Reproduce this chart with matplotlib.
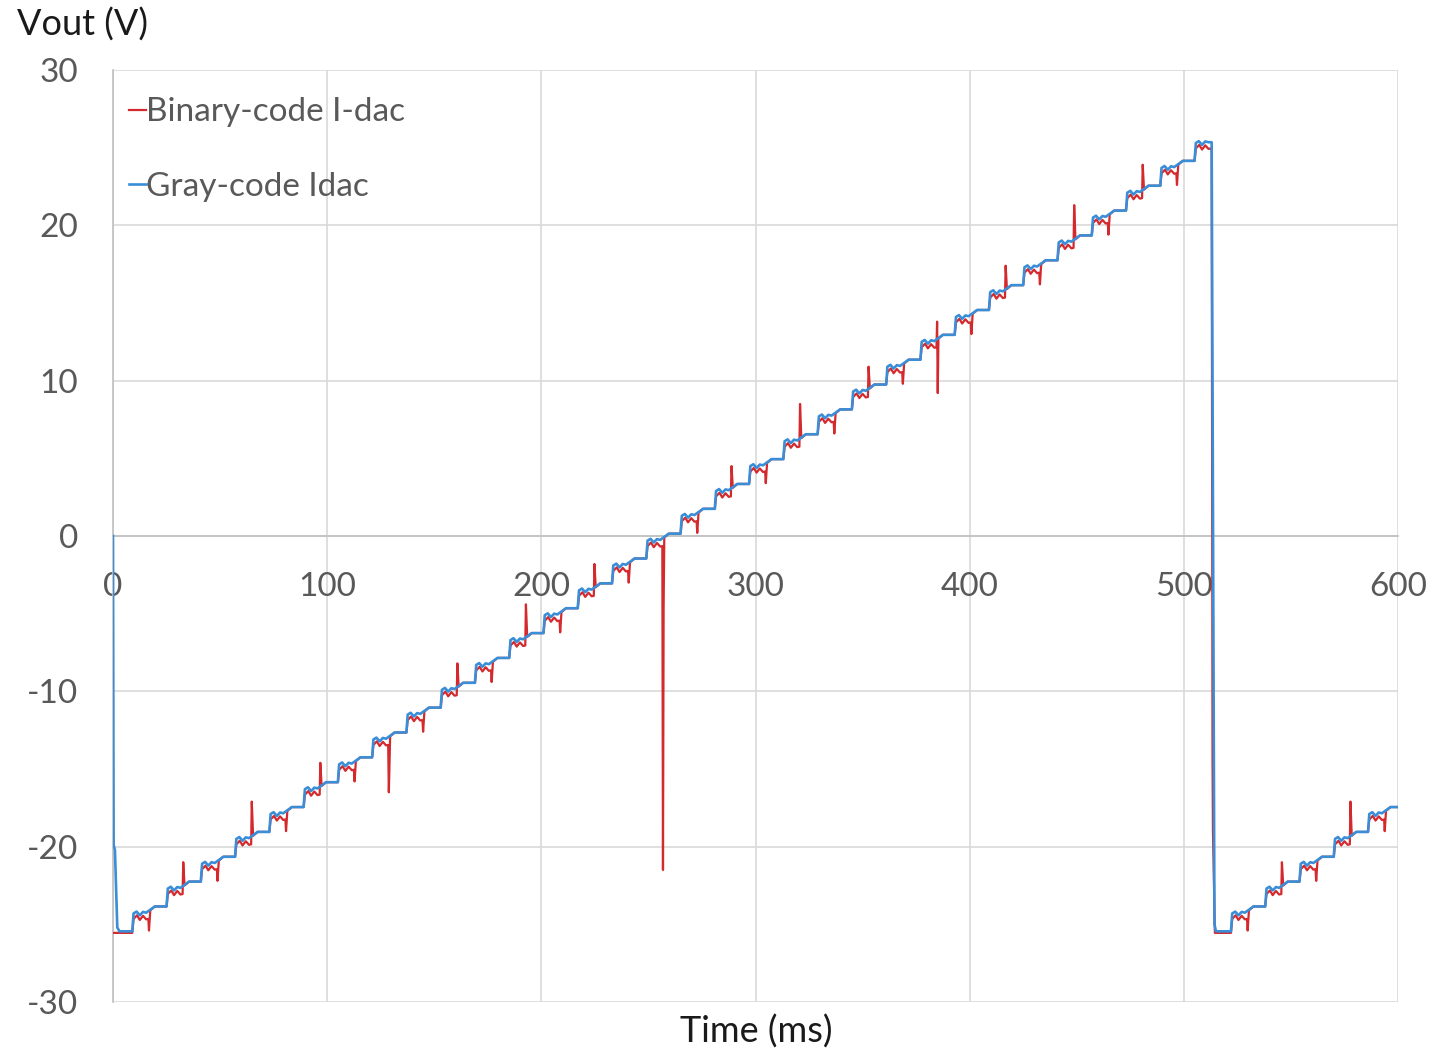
import matplotlib.pyplot as plt

plt.rcParams['font.family'] = ['Lato', 'DejaVu Sans']
plt.rcParams['axes.unicode_minus'] = False

# first ramp: time of each step (ms) and the level right after it (V)
ramp1_t = [9, 25, 41, 57, 73, 89, 105, 121, 137, 153, 169, 185, 201, 217, 233, 249,
           265, 281, 297, 313, 329, 345, 361, 377, 393, 409, 425, 441, 457, 473, 489, 505]
ramp1_level = [-24.3, -22.7, -21.1, -19.5, -17.9, -16.3, -14.7, -13.1, -11.5, -9.9, -8.3,
               -6.7, -5.1, -3.5, -1.9, -0.3, 1.3, 2.9, 4.5, 6.1, 7.7, 9.3, 10.9, 12.5,
               14.1, 15.7, 17.3, 18.9, 20.5, 22.1, 23.7, 25.3]
# binary-code glitch in the middle of each step (first and second extreme)
ramp1_spike = [-25.4, -21.0, -22.2, -17.1, -19.0, -14.6, -15.8, -16.5, -12.6, -8.2, -9.4,
               -4.4, -6.2, -1.8, -3.0, -21.5, 0.2, 4.5, 3.4, 8.5, 6.6, 10.9, 9.8, 13.8,
               13.0, 17.4, 16.2, 21.3, 19.4, 23.9, 22.6, None]
ramp1_spike2 = {15: -4.6, 23: 9.2}

# second ramp after the reset
ramp2_t = [522, 538, 554, 570, 586]
ramp2_level = [-24.3, -22.7, -21.1, -19.5, -17.9]
ramp2_spike = [-25.4, -21.0, -22.2, -17.1, -19.0]

bottom_level = -25.45
reset_t = 513

# shape of one step (ms after the step, V relative to the step level)
blue_dt = [0.6, 2.0, 3.5, 5.0, 6.5, 10.5]
blue_dv = [0.0, 0.12, -0.12, 0.1, 0.05, 0.45]
red_dt = [0.6, 2.2, 3.5, 5.0, 6.5, 7.5]
red_dv = [-0.35, -0.12, -0.42, -0.15, -0.38, -0.35]

RED = '#d42a2e'
BLUE = '#3a8ed8'
GRID = '#d9d9d9'
AXIS = '#bfbfbf'
TXT = '#595959'


def blue_ramp(step_t, levels, t, v, t_end):
    for t0, lv in zip(step_t, levels):
        t.append(t0)
        v.append(v[-1])
        for d, dv in zip(blue_dt, blue_dv):
            if t0 + d < t_end:
                t.append(t0 + d)
                v.append(lv + dv)
    return t, v


def red_ramp(step_t, levels, spikes, spikes2, t, v):
    for k, (t0, lv) in enumerate(zip(step_t, levels)):
        t.append(t0)
        v.append(v[-1])
        for d, dv in zip(red_dt, red_dv):
            t.append(t0 + d)
            v.append(lv + dv)
        if spikes[k] is None:
            continue
        t.append(t0 + 7.8)
        v.append(spikes[k])
        if k in spikes2:
            t.append(t0 + 8.1)
            v.append(spikes2[k])
        t += [t0 + 8.4, t0 + 10.5]
        v += [lv + 0.2, lv + 0.45]
    return t, v


# blue (gray-code)
bt, bv = blue_ramp(ramp1_t, ramp1_level, [0, 0.3, 0.9, 2.0, 3.0],
                   [0, -19.9, -20.2, -25.2, bottom_level], reset_t)
bt += [reset_t, reset_t + 1.3, reset_t + 2.0]
bv += [bv[-1], -25.0, bottom_level]
bt, bv = blue_ramp(ramp2_t, ramp2_level, bt, bv, 600)
bt.append(600)
bv.append(bv[-1])

# red (binary-code)
rt, rv = red_ramp(ramp1_t, ramp1_level, ramp1_spike, ramp1_spike2, [0], [-25.55])
rt += [reset_t, reset_t + 0.4, reset_t + 0.6, reset_t + 1.5]
rv += [rv[-1], -14.3, -19.0, -25.55]
rt, rv = red_ramp(ramp2_t, ramp2_level, ramp2_spike, {}, rt, rv)
rt.append(600)
rv.append(rv[-1])

fig = plt.figure(figsize=(14.32, 10.54), dpi=100)
ax = fig.add_axes([113 / 1432, 1 - 1002 / 1054, 1285 / 1432, 932 / 1054])

ax.plot(rt, rv, color=RED, lw=1.6, label='Binary-code I-dac', zorder=3)
ax.plot(bt, bv, color=BLUE, lw=1.9, label='Gray-code Idac', zorder=4)

ax.set_xlim(0, 600)
ax.set_ylim(-30, 30)
ax.set_xticks(range(0, 601, 100))
ax.set_yticks(range(-30, 31, 10))
ax.grid(True, color=GRID, lw=1.2)
ax.set_axisbelow(True)

for s in ['top', 'right']:
    ax.spines[s].set_visible(False)
ax.spines['left'].set_color(AXIS)
ax.spines['bottom'].set_color(AXIS)
ax.spines['left'].set_linewidth(1.2)
ax.spines['bottom'].set_linewidth(1.2)
ax.spines['bottom'].set_position(('data', 0))
ax.spines['bottom'].set_zorder(2)

ax.tick_params(axis='both', length=0, labelsize=24, labelcolor=TXT)
ax.tick_params(axis='y', pad=25)
ax.tick_params(axis='x', pad=26)

leg = ax.legend(loc='upper left', bbox_to_anchor=(0.002, 0.985), frameon=False,
                fontsize=24, handlelength=0.5, handletextpad=0.0, labelspacing=1.34,
                borderaxespad=0)
for txt in leg.get_texts():
    txt.set_color(TXT)

fig.text(17 / 1432, 1 - 25 / 1054, 'Vout (V)', fontsize=26, color='#1a1a1a', va='center', ha='left')
fig.text(756 / 1432, 1 - 1032 / 1054, 'Time (ms)', fontsize=26, color='#1a1a1a', va='center', ha='center')

fig.savefig('out.png', dpi=100)
